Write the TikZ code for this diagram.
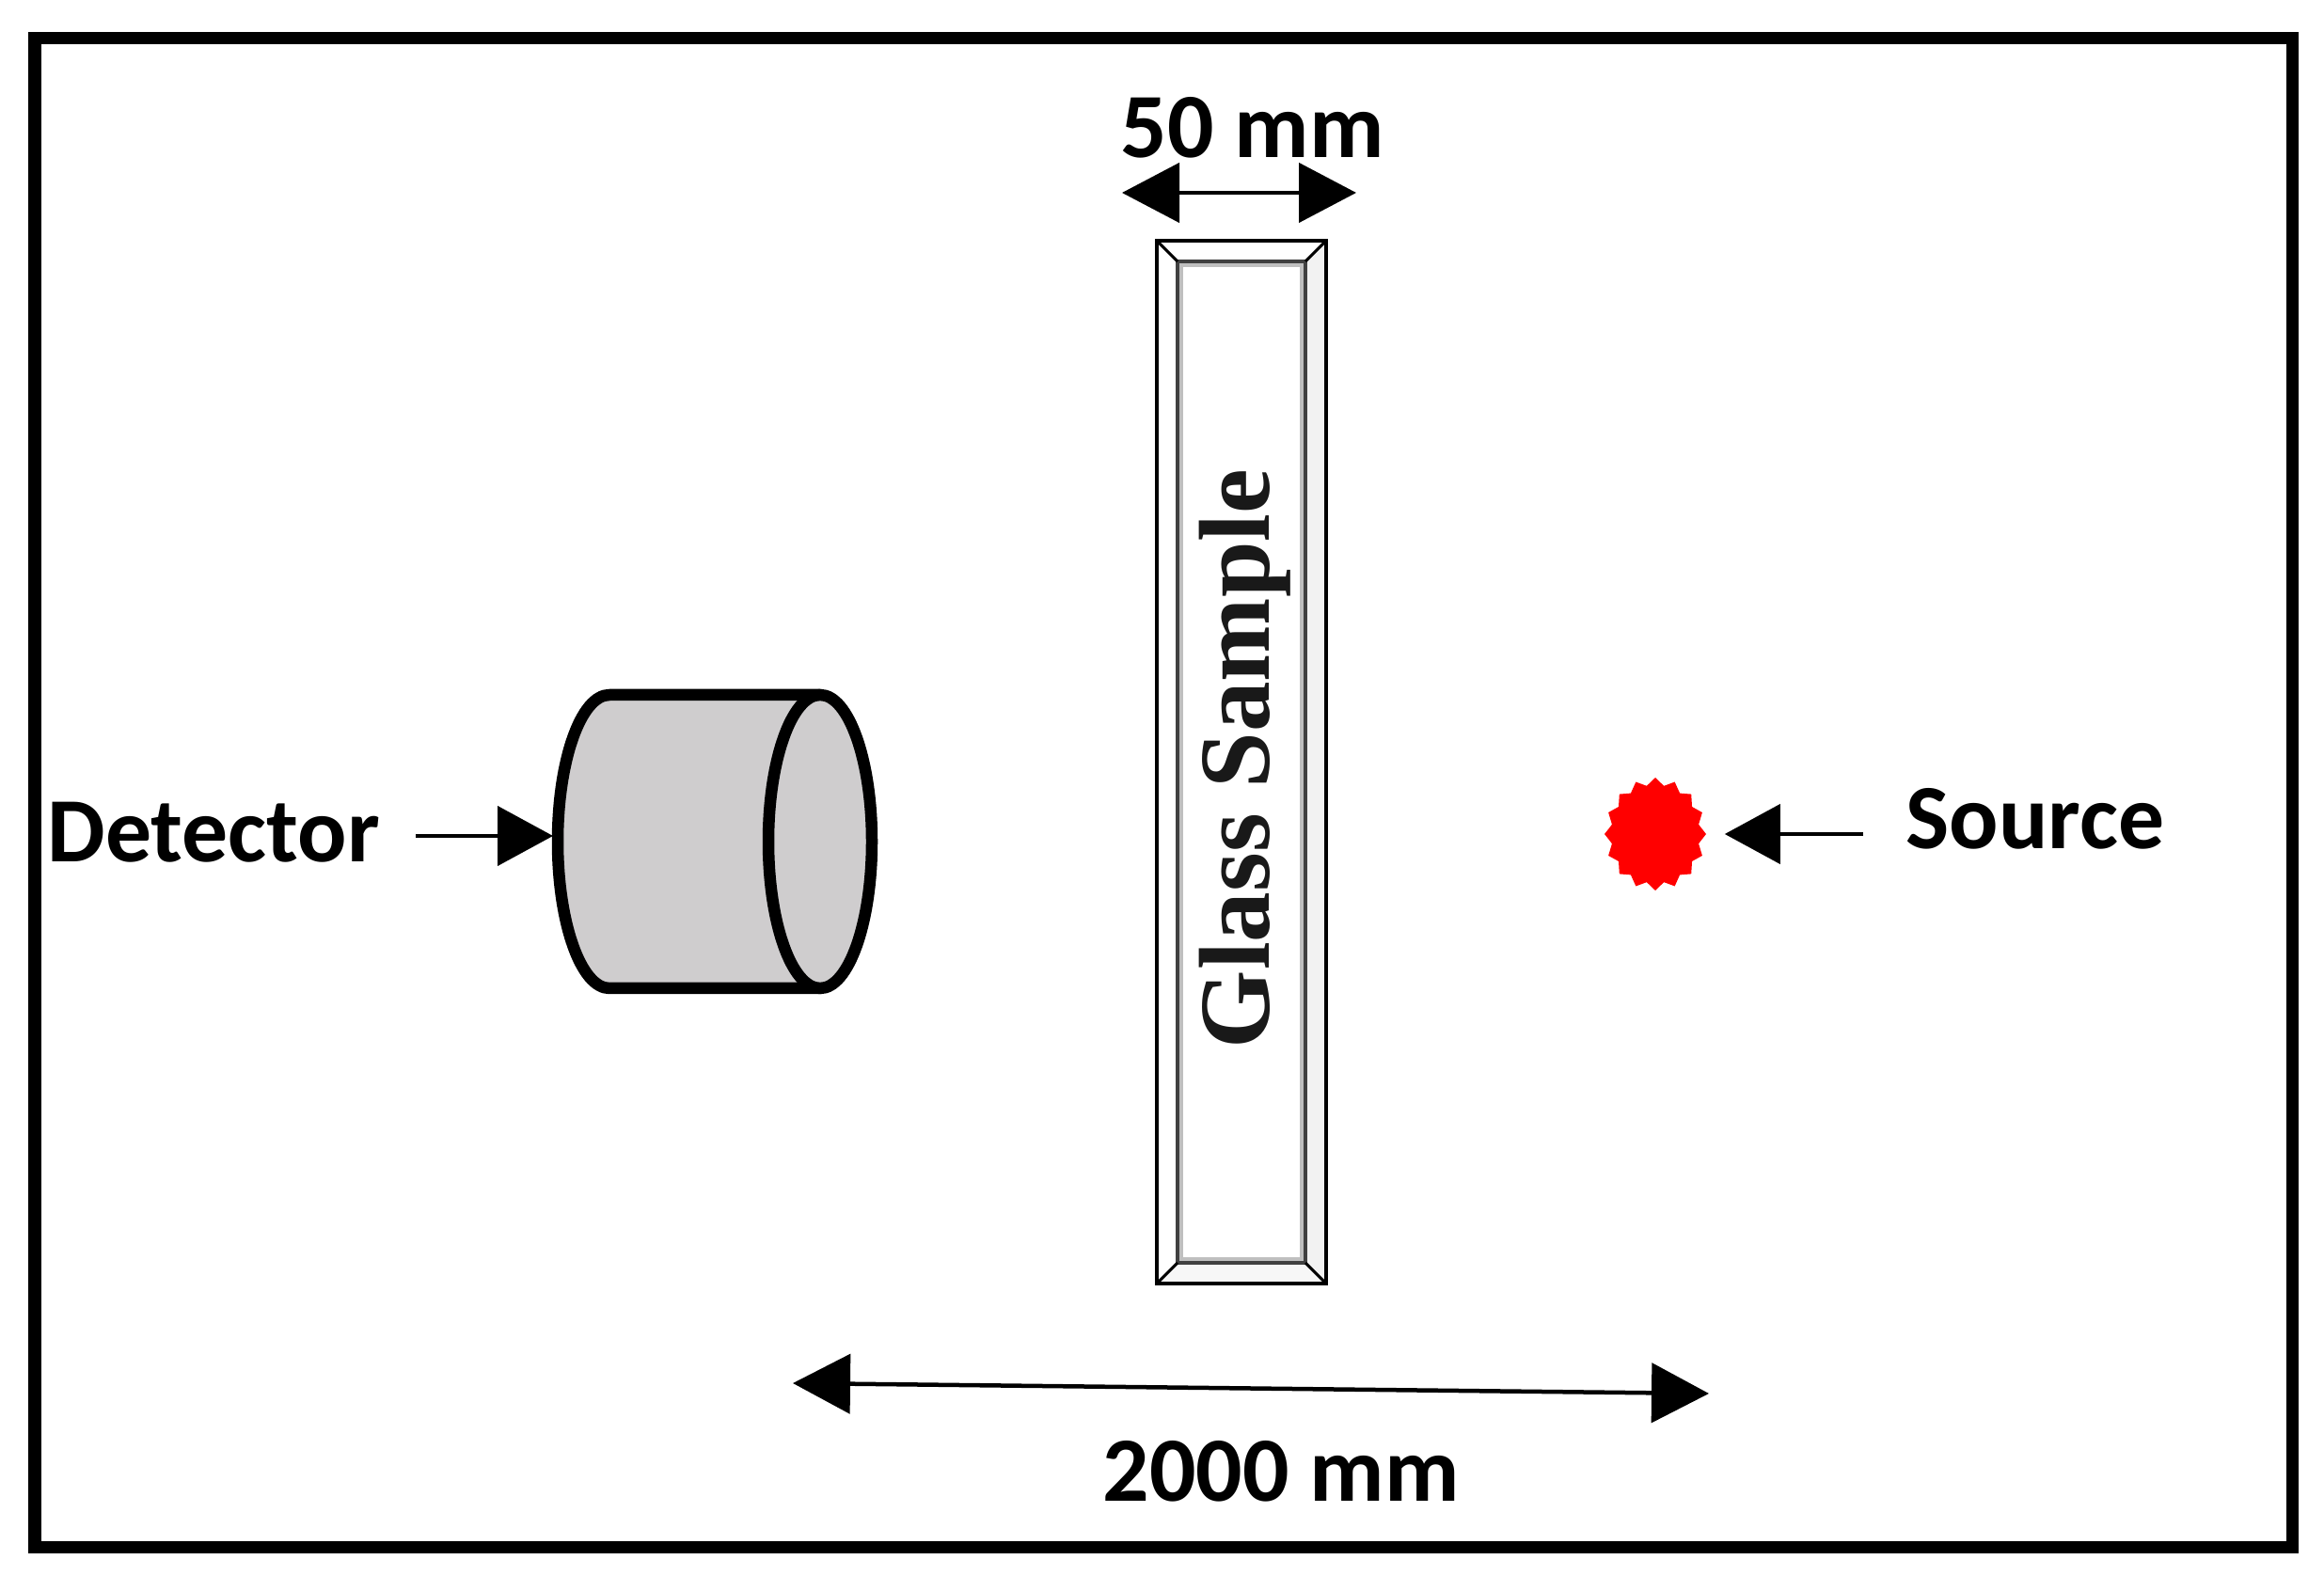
\documentclass[tikz,border=0pt]{standalone}
\usepackage{fontspec}
\usepackage{color}
\usetikzlibrary{arrows.meta,shapes.geometric}
\setmainfont{Carlito}
\newfontfamily\glassfont{Liberation Serif}
\definecolor{detectorgray}{HTML}{CFCDCE}
\tikzset{
  dimarrow/.style={line width=0.045cm,{Triangle[length=0.61cm,width=0.63cm]}-{Triangle[length=0.61cm,width=0.63cm]}},
  onearrow/.style={line width=0.045cm,-{Triangle[length=0.59cm,width=0.63cm]}},
  lbl/.style={inner sep=0pt,font=\fontsize{27.8}{30}\selectfont\bfseries},
  detectorline/.style={line width=0.125cm,fill=detectorgray,line join=round}
}
\begin{document}
\begin{tikzpicture}
\useasboundingbox (0,0) rectangle (24.71,16.91);
\draw[line width=0.13cm] (0.37,0.46) rectangle (24.37,16.50);
% glass sample
\fill[gray!10] (14.10,14.35) -- (13.88,14.13) -- (13.88,3.48) -- (14.10,3.26) -- cycle;
\fill[gray!6] (12.30,3.26) -- (12.52,3.48) -- (13.88,3.48) -- (14.10,3.26) -- cycle;
\draw[line width=0.04cm,gray!50] (12.56,14.09) -- (13.84,14.09) -- (13.84,3.52) -- (12.56,3.52) -- cycle;
\draw[line width=0.04cm,black!75] (12.52,14.13) rectangle (13.88,3.48);
\draw[line width=0.03cm] (12.30,14.35) -- (12.52,14.13);
\draw[line width=0.03cm] (14.10,14.35) -- (13.88,14.13);
\draw[line width=0.03cm] (12.30,3.26) -- (12.52,3.48);
\draw[line width=0.03cm] (14.10,3.26) -- (13.88,3.48);
\draw[line width=0.045cm] (12.30,3.26) rectangle (14.10,14.35);
\node[rotate=90,anchor=base,inner sep=0pt,text=black!90,font=\glassfont\fontsize{30.5}{32}\selectfont\bfseries] (glasslabel) at (13.49,8.84) {Glass Sample};
% width of the sample
\coordinate (widthleft) at (11.93,14.86);
\coordinate (widthright) at (14.42,14.86);
\draw[dimarrow] (widthleft) -- (widthright);
\node[lbl,anchor=base west] (widthlabel) at (11.91,15.23) {50 mm};
% detector
\filldraw[detectorline] (6.48,9.52) arc[start angle=90,end angle=270,x radius=0.55,y radius=1.56] -- (8.72,6.40) -- (8.72,9.52) -- cycle;
\filldraw[detectorline] (8.72,7.96) ellipse (0.55 and 1.56);
\coordinate (detectorface) at (5.88,8.02);
\node[lbl,anchor=base west] (detectorlabel) at (0.50,7.74) {Detector};
\draw[onearrow,shorten <=0.38cm] (detectorlabel.east |- detectorface) -- (detectorface);
% source
\node[star,star points=16,star point ratio=1.15,fill=red,inner sep=0pt,minimum size=1.2cm,xscale=0.9] (source) at (17.60,8.04) {};
\node[lbl,anchor=base west] (sourcelabel) at (20.26,7.88) {Source};
\draw[onearrow,shorten <=0.45cm,shorten >=0.19cm] (sourcelabel.west |- source.east) -- (source.east);
% distance
\coordinate (distleft) at (8.43,2.20);
\coordinate (distright) at (18.17,2.09);
\draw[dimarrow] (distleft) -- (distright);
\node[lbl,anchor=base west] (distlabel) at (11.72,0.95) {2000 mm};
\end{tikzpicture}
\end{document}
